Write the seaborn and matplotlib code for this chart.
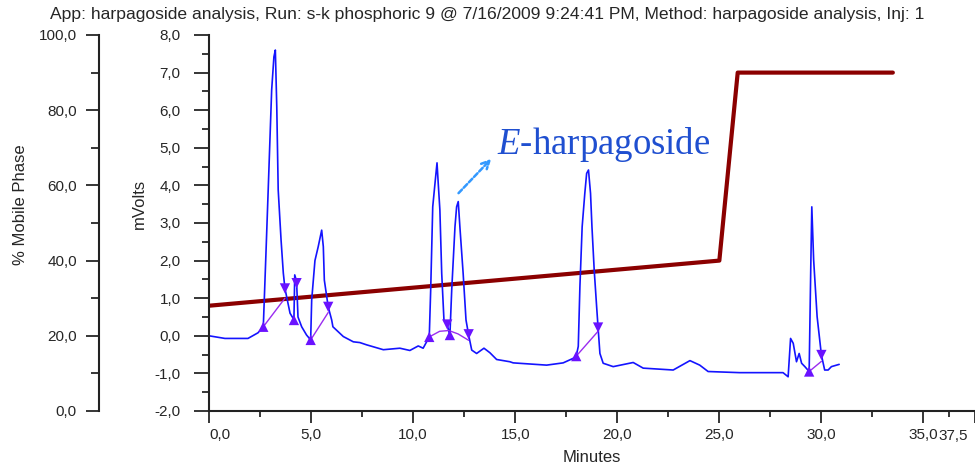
import matplotlib
matplotlib.use('Agg')
import matplotlib.pyplot as plt
import numpy as np
import seaborn as sns

sns.set_style('white')
plt.rcParams['font.family'] = ['Liberation Sans', 'DejaVu Sans']
plt.rcParams['mathtext.fontset'] = 'custom'
plt.rcParams['mathtext.rm'] = 'Liberation Serif'
plt.rcParams['mathtext.it'] = 'Liberation Serif:italic'

# chromatogram trace (minutes, mV)
time_min = [0.00, 0.78, 1.91, 2.40, 2.66, 2.79, 2.90, 3.07, 3.18, 3.25, 3.32, 3.39,
            3.53, 3.64, 3.72, 3.97, 4.16, 4.20, 4.29, 4.36, 4.54, 4.78, 4.98, 5.03,
            5.19, 5.35, 5.52, 5.60, 5.65, 5.84, 6.01, 6.07, 6.58, 7.07, 7.39, 7.72,
            8.54, 9.35, 9.84, 10.25, 10.49, 10.79, 10.86, 10.96, 11.07, 11.17, 11.23,
            11.31, 11.40, 11.51, 11.67, 11.80, 11.89, 12.05, 12.13, 12.21, 12.29,
            12.45, 12.59, 12.72, 12.87, 13.11, 13.47, 13.76, 14.09, 14.74, 14.90,
            16.54, 17.35, 17.84, 17.99, 18.09, 18.17, 18.28, 18.41, 18.50, 18.59,
            18.69, 18.76, 18.87, 18.99, 19.06, 19.15, 19.31, 19.80, 20.78, 21.27,
            22.74, 23.56, 24.04, 24.45, 26.00, 28.12, 28.37, 28.49, 28.62, 28.78,
            28.91, 29.03, 29.19, 29.40, 29.48, 29.53, 29.62, 29.72, 29.79, 30.00,
            30.16, 30.33, 30.49, 30.87]
signal_mv = [0.00, -0.07, -0.07, 0.08, 0.24, 2.19, 3.88, 6.54, 7.42, 7.60, 6.09, 3.88,
             2.55, 1.67, 1.26, 0.60, 0.43, 1.62, 1.45, 0.50, 0.24, 0.02, -0.11, 0.95,
             2.00, 2.37, 2.81, 2.37, 1.48, 0.77, 0.42, 0.24, -0.02, -0.16, -0.18, -0.24,
             -0.37, -0.33, -0.39, -0.27, -0.33, -0.03, 1.22, 3.43, 4.05, 4.60, 4.05,
             3.35, 1.66, 0.42, 0.30, 0.00, 1.22, 2.90, 3.43, 3.57, 2.90,
             1.66, 0.42, 0.02, -0.38, -0.47, -0.33, -0.45, -0.63, -0.69, -0.72,
             -0.78, -0.72, -0.60, -0.54, -0.28, 1.31, 2.90, 3.79, 4.32, 4.41,
             3.79, 2.90, 1.75, 0.77, 0.22, -0.47, -0.73, -0.82, -0.71, -0.86,
             -0.91, -0.66, -0.78, -0.95, -0.98, -0.98, -1.09, -0.07, -0.20, -0.69,
             -0.47, -0.73, -0.82, -0.95, 1.84, 3.43, 2.02, 1.13, 0.51, -0.51,
             -0.91, -0.91, -0.82, -0.76]

# peak start / end markers
start_t = [2.66, 4.16, 4.98, 10.79, 11.80, 17.99, 29.40]
start_mv = [0.24, 0.42, -0.11, -0.03, 0.02, -0.54, -0.95]
end_t = [3.72, 4.29, 5.84, 11.67, 12.72, 19.06, 30.00]
end_mv = [1.26, 1.40, 0.77, 0.30, 0.04, 0.22, -0.51]

# integration baselines
baselines = [
    ([2.66, 3.72], [0.24, 1.00]),
    ([4.98, 5.84], [-0.11, 0.62]),
    ([10.79, 11.30, 11.75, 12.20, 12.72], [-0.03, 0.12, 0.14, 0.05, -0.12]),
    ([17.99, 19.06], [-0.54, 0.12]),
    ([29.40, 30.00], [-0.95, -0.68]),
]

# mobile phase gradient (% B)
mp_t = [0.0, 25.0, 25.9, 33.5]
mp_pct = [28.0, 40.0, 90.0, 90.0]

title = ('App: harpagoside analysis, Run: s-k phosphoric 9 @ 7/16/2009 9:24:41 PM, '
         'Method: harpagoside analysis, Inj: 1')
xtick_pos = [0, 5, 10, 15, 20, 25, 30, 35, 37.5]
xtick_lab = ['0,0', '5,0', '10,0', '15,0', '20,0', '25,0', '30,0', '35,0', '']
last_lab = '37,5'


def comma(v, pos=None):
    return f'{v:.1f}'.replace('.', ',')


W, H = 975, 467
fig = plt.figure(figsize=(W / 100, H / 100), dpi=100)
rect = [209 / W, 1 - 411 / H, 765.5 / W, 376 / H]
ax = fig.add_axes(rect)
ax_mp = ax.twinx()
ax.set_zorder(ax_mp.get_zorder() + 1)
ax.patch.set_visible(False)

# gradient on the left-most axis
sns.lineplot(x=mp_t, y=mp_pct, ax=ax_mp, color='#8b0000', lw=3.0, sort=False)
ax_mp.set_ylim(0, 100)
ax_mp.set_xlim(0, 37.5)
for s in ['top', 'right', 'bottom']:
    ax_mp.spines[s].set_visible(False)
ax_mp.spines['left'].set_visible(True)
ax_mp.spines['left'].set_position(('axes', (99 - 209) / 765.5))
ax_mp.spines['left'].set_color('#222222')
ax_mp.spines['left'].set_linewidth(1.5)
ax_mp.yaxis.tick_left()
ax_mp.yaxis.set_label_position('left')
ax_mp.set_yticks(np.arange(0, 101, 20))
ax_mp.set_yticks(np.arange(10, 100, 20), minor=True)
ax_mp.yaxis.set_major_formatter(matplotlib.ticker.FuncFormatter(comma))
ax_mp.tick_params(axis='y', which='major', length=9.5, width=1.3, pad=6.5, labelsize=11)
ax_mp.tick_params(axis='y', which='minor', length=6, width=1.3)
ax_mp.set_ylabel('% Mobile Phase', fontsize=12)
ax_mp.yaxis.set_label_coords(-0.236, 0.55)

# detector trace
sns.lineplot(x=time_min, y=signal_mv, ax=ax, color='#1414ff', lw=1.2, sort=False)
for bt, bv in baselines:
    ax.plot(bt, bv, color='#9a2cf0', lw=1.0)
sns.scatterplot(x=start_t, y=start_mv, ax=ax, marker='^', s=55, color='#6a12ff',
                edgecolor='none', zorder=4)
sns.scatterplot(x=end_t, y=end_mv, ax=ax, marker='v', s=55, color='#6a12ff',
                edgecolor='none', zorder=4)

ax.set_xlim(0, 37.5)
ax.set_ylim(-2, 8)
for s in ['top', 'right']:
    ax.spines[s].set_visible(False)
for s in ['left', 'bottom']:
    ax.spines[s].set_color('#222222')
    ax.spines[s].set_linewidth(1.5)
ax.set_yticks(np.arange(-2, 8.1, 1))
ax.set_yticks(np.arange(-1.5, 8, 1), minor=True)
ax.yaxis.set_major_formatter(matplotlib.ticker.FuncFormatter(comma))
ax.tick_params(axis='y', which='major', left=True, length=10.5, width=1.3, pad=10, labelsize=11)
ax.tick_params(axis='y', which='minor', left=True, length=5, width=1.3)
ax.set_xticks(xtick_pos)
ax.set_xticklabels(xtick_lab)
ax.set_xticks(list(np.arange(2.5, 33, 5)) + [36.25], minor=True)
ax.tick_params(axis='x', which='major', bottom=True, length=8.6, width=1.3, pad=3.5, labelsize=11)
ax.tick_params(axis='x', which='minor', bottom=True, length=4.5, width=1.3)
ax.get_xticklabels()[0].set_ha('left')
# last tick label sits a little left of the axis end, as in the original
ax.annotate(last_lab, xy=(xtick_pos[-1], 0), xycoords=('data', 'axes fraction'),
            xytext=(-5, -12.7), textcoords='offset points', ha='right', va='top',
            fontsize=11)
ax.set_ylabel('mVolts', fontsize=12)
ax.yaxis.set_label_coords(-0.081, 0.55)
ax.set_xlabel('Minutes', fontsize=12)
ax.xaxis.set_label_coords(0.5, -0.103)

# peak annotation
ax.annotate('', xy=(13.92, 4.76), xytext=(12.13, 3.74),
            arrowprops=dict(arrowstyle='->', color='#3399ff', lw=1.8,
                            linestyle=(0, (2, 1)), mutation_scale=14))
ax.text(14.1, 4.83, r'$\mathit{E}$-harpagoside', family='Liberation Serif',
        fontsize=26.5, color='#1f4fd0', va='baseline', ha='left')

fig.text(487.5 / W, 1 - 14 / H, title, ha='center', va='center', fontsize=12.6)

plt.savefig('out.png', dpi=100)
plt.close()
